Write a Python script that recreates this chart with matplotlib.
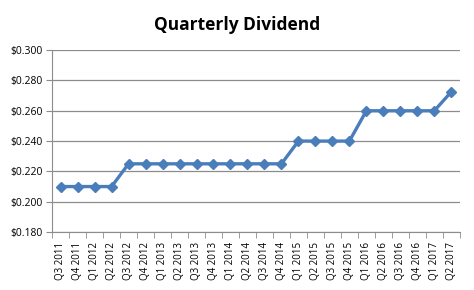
import numpy as np
import matplotlib
matplotlib.use("Agg")
import matplotlib.pyplot as plt
from matplotlib.ticker import FuncFormatter, FixedLocator

quarters = ["Q3 2011", "Q4 2011", "Q1 2012", "Q2 2012", "Q3 2012", "Q4 2012",
            "Q1 2013", "Q2 2013", "Q3 2013", "Q4 2013", "Q1 2014", "Q2 2014",
            "Q3 2014", "Q4 2014", "Q1 2015", "Q2 2015", "Q3 2015", "Q4 2015",
            "Q1 2016", "Q2 2016", "Q3 2016", "Q4 2016", "Q1 2017", "Q2 2017"]
dividend = [0.210, 0.210, 0.210, 0.210, 0.225, 0.225,
            0.225, 0.225, 0.225, 0.225, 0.225, 0.225,
            0.225, 0.225, 0.240, 0.240, 0.240, 0.240,
            0.260, 0.260, 0.260, 0.260, 0.260, 0.2725]

plt.rcParams['font.family'] = ['Open Sans', 'DejaVu Sans']

fig = plt.figure(figsize=(4.74, 2.9), dpi=100)
ax = fig.add_axes([0.110, 0.200, 0.860, 0.627])

x = np.arange(len(quarters))
ax.plot(x, dividend, color="#4a7ebb", lw=2.4, marker="D", ms=4.8,
        markeredgecolor="#4a7ebb", zorder=3)

ax.set_xlim(-0.5, len(quarters) - 0.5)
ax.set_ylim(0.18, 0.30)
ax.set_yticks(np.arange(0.18, 0.3001, 0.02))
ax.yaxis.set_major_formatter(FuncFormatter(lambda v, p: "$%.3f" % v))
ax.grid(axis="y", color="#8c8c8c", lw=0.9)
ax.set_axisbelow(True)

ax.set_xticks(x)
ax.set_xticklabels(quarters, rotation=90, fontsize=7)
ax.tick_params(axis="x", length=0, pad=7)
ax.xaxis.set_minor_locator(FixedLocator(np.arange(-0.5, len(quarters), 1)))
ax.tick_params(axis="x", which="minor", length=4, color="#8c8c8c")
ax.tick_params(axis="y", labelsize=7.5, length=4, color="#8c8c8c", pad=3)

for s in ["top", "right"]:
    ax.spines[s].set_visible(False)
for s in ["left", "bottom"]:
    ax.spines[s].set_color("#8c8c8c")

fig.text(0.5, 0.915, "Quarterly Dividend", ha="center", va="center",
         fontsize=12.5, fontweight="bold")

fig.savefig("out.png", dpi=100)
